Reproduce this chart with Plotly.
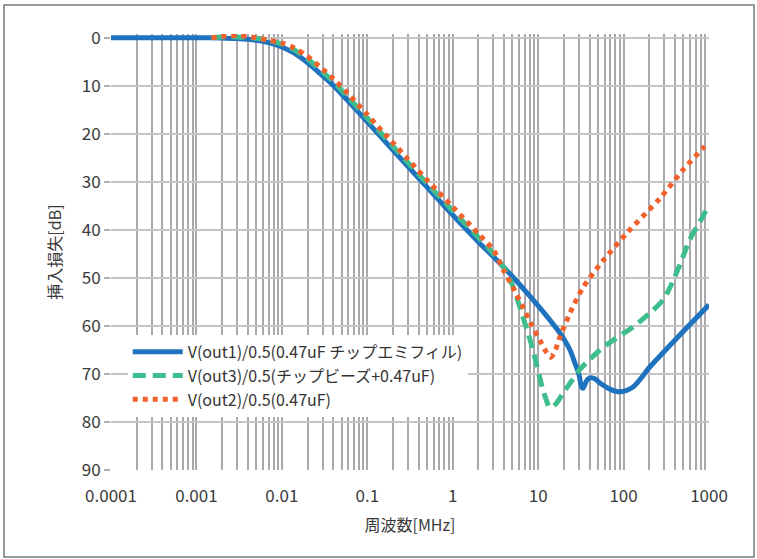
import plotly.graph_objects as go

# ---- data (frequency in MHz, insertion loss in dB) ----
freq_out1 = [0.0001, 0.0015, 0.002, 0.003, 0.005, 0.007, 0.01, 0.014, 0.02, 0.03, 0.04, 0.06,
             0.1, 0.17, 0.3, 0.5, 1, 2, 3, 5, 8, 12, 18, 23.6, 27, 30, 32, 33.5, 35, 38, 42,
             47, 53, 70, 91, 129, 204, 422, 1000]
loss_out1 = [0, 0, 0.05, 0.15, 0.5, 1.0, 1.9, 3.2, 5.2, 7.9, 9.9, 13.2,
             17.5, 22.0, 26.8, 31.1, 36.9, 42.5, 45.6, 49.7, 53.8, 57.5, 61.5, 65.0, 67.8, 70.0, 72.5, 73.0, 72.3, 71.1, 70.8,
             71.1, 71.9, 73.2, 73.7, 72.7, 68.5, 62.5, 55.6]

freq_out3 = [0.0015, 0.002, 0.003, 0.005, 0.007, 0.01, 0.014, 0.02, 0.03, 0.04, 0.06, 0.1,
             0.17, 0.3, 0.5, 1, 2, 3, 4, 5, 6.6, 8.7, 11.4, 13.8, 16, 19.6, 25, 31, 40, 53,
             75, 129, 204, 290, 349, 450, 598, 800, 1000]
loss_out3 = [0, -0.15, -0.2, 0.1, 0.5, 1.3, 2.5, 4.4, 7.1, 9.1, 12.4, 16.7,
             21.2, 26.0, 30.3, 36.0, 41.6, 45.0, 48.0, 51.5, 58.0, 65.0, 73.3, 77.0, 76.3, 74.0, 71.3, 69.0, 67.0, 65.0,
             63.0, 60.2, 57.3, 54.6, 52.0, 47.5, 42.0, 38.0, 34.8]

freq_out2 = [0.0015, 0.002, 0.0025, 0.0032, 0.004, 0.005, 0.007, 0.01, 0.014, 0.02, 0.03, 0.04,
             0.06, 0.1, 0.17, 0.3, 0.5, 1, 2, 3, 3.9, 5, 6.6, 8.5, 10.5, 12.5, 14, 15.5, 18,
             23.6, 33.5, 57, 110, 267, 497, 850, 1000]
loss_out2 = [0, -0.3, -0.45, -0.45, -0.3, 0, 0.5, 1.1, 2.1, 3.9, 6.5, 8.5,
             11.7, 16.0, 20.5, 25.3, 29.6, 35.2, 40.8, 44.2, 48.3, 51.8, 56.0, 60.0, 63.0, 65.5, 66.5, 65.5, 62.3,
             57.3, 52.0, 46.5, 40.6, 33.4, 27.5, 23.0, 21.8]

names = ["V(out1)/0.5(0.47uF チップエミフィル)",
         "V(out3)/0.5(チップビーズ+0.47uF)",
         "V(out2)/0.5(0.47uF)"]

x_tick_vals = [0.0001, 0.001, 0.01, 0.1, 1, 10, 100, 1000]
x_tick_text = ["0.0001", "0.001", "0.01", "0.1", "1", "10", "100", "1000"]
y_tick_vals = [0, 10, 20, 30, 40, 50, 60, 70, 80, 90]

minor_vals = [m * d for d in x_tick_vals[:-1] for m in range(2, 10)]

FONT = "Noto Sans CJK JP"
BLUE = "#1F73BE"
GREEN = "#3EBE8D"
ORANGE = "#F2602B"

fig = go.Figure()
fig.add_trace(go.Scatter(x=freq_out1, y=loss_out1, mode="lines", name=names[0],
                         line=dict(color=BLUE, width=5, shape="spline", smoothing=0.8)))
fig.add_trace(go.Scatter(x=freq_out3, y=loss_out3, mode="lines", name=names[1],
                         line=dict(color=GREEN, width=5, dash="13px,7px", shape="spline", smoothing=0.8)))
fig.add_trace(go.Scatter(x=freq_out2, y=loss_out2, mode="lines", name=names[2],
                         line=dict(color=ORANGE, width=5, dash="5px,5px", shape="spline", smoothing=0.8)))

fig.update_layout(
    width=757, height=559,
    margin=dict(l=111, r=48, t=34, b=89),
    paper_bgcolor="white", plot_bgcolor="white",
    font=dict(family=FONT, color="#3a3a3a"),
    showlegend=True,
    legend=dict(x=0.028, y=0.31, xanchor="left", yanchor="top",
                bgcolor="white", borderwidth=0, itemwidth=50,
                font=dict(family=FONT, size=16, color="#333333"),
                tracegroupgap=0),
    xaxis=dict(type="log", range=[-4, 3],
               tickmode="array", tickvals=x_tick_vals, ticktext=x_tick_text,
               tickfont=dict(size=17, color="#3a3a3a"),
               showgrid=True, gridcolor="#a9a9ad", gridwidth=2,
               minor=dict(tickvals=minor_vals, showgrid=True, gridcolor="#a9a9ad", gridwidth=2, ticks=""),
               ticks="", ticklabelstandoff=14,
               zeroline=False, showline=False,
               title=dict(text="周波数[MHz]", font=dict(size=16, color="#3a3a3a"), standoff=13)),
    yaxis=dict(range=[90, -0.8], tickmode="array", tickvals=y_tick_vals,
               tickfont=dict(size=17, color="#3a3a3a"),
               showgrid=True, gridcolor="#c4c4c4", gridwidth=2,
               ticks="outside", ticklen=6, tickcolor="#b0b0b0", tickwidth=1.5,
               zeroline=False, showline=False,
               title=dict(text="挿入損失[dB]", font=dict(size=16, color="#3a3a3a"), standoff=16)),
    shapes=[
        dict(type="rect", xref="paper", yref="y", x0=-0.005, x1=1.005, y0=-0.8, y1=-0.22,
             fillcolor="white", line=dict(width=0), layer="between"),
        dict(type="rect", xref="paper", yref="paper", x0=-0.1789, x1=1.0753, y0=-0.1995, y1=1.0665,
             fillcolor="rgba(0,0,0,0)", line=dict(color="#7a7a7a", width=1.5), layer="above"),
    ],
)

fig.write_html("out.html", config={"displayModeBar": False},
               post_script="document.body.style.margin='0';")
